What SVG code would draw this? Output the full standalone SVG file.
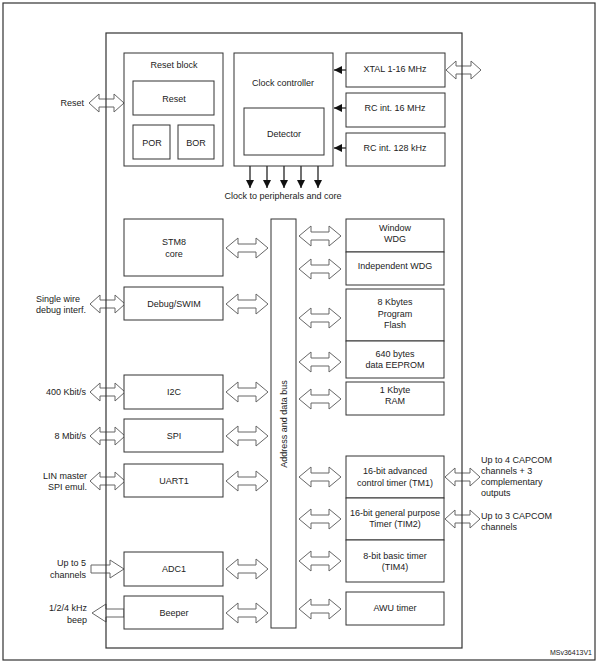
<svg xmlns="http://www.w3.org/2000/svg" xmlns:xlink="http://www.w3.org/1999/xlink" width="600" height="664" viewBox="0 0 600 664">
<style>
.frame{fill:none;stroke:#333;stroke-width:1.2}
.box{fill:#fff;stroke:#333;stroke-width:1}
.t{font-family:"Liberation Sans",Arial,sans-serif;font-size:9px;fill:#222;text-anchor:middle}
.tl{text-anchor:start}
.tr{text-anchor:end}
.arr{fill:#fff;stroke:#666;stroke-width:1}
.ln{stroke:#111;stroke-width:1.2;fill:none}
</style>
<defs>
<path id="da42" class="arr" d="M0,0 L12,-10 L12,-4 L30,-4 L30,-10 L42,0 L30,10 L30,4 L12,4 L12,10 Z"/>
<path id="da35" class="arr" d="M0,0 L10,-9 L10,-4 L25,-4 L25,-9 L35,0 L25,9 L25,4 L10,4 L10,9 Z"/>
<marker id="ah" viewBox="0 0 10 10" refX="10" refY="5" markerWidth="8" markerHeight="8" markerUnits="userSpaceOnUse" orient="auto">
<path d="M0,0 L10,5 L0,10 Z" fill="#111"/>
</marker>
</defs>
<rect x="3" y="3" width="592" height="657" fill="#fff" stroke="#333" stroke-width="1.2"/>

<g id="connectors">
<!-- clock source arrows -->
<line class="ln" x1="346" y1="70" x2="334" y2="70" marker-end="url(#ah)"/>
<line class="ln" x1="346" y1="108" x2="334" y2="108" marker-end="url(#ah)"/>
<line class="ln" x1="346" y1="148" x2="334" y2="148" marker-end="url(#ah)"/>
<!-- clock outputs -->
<line class="ln" x1="250" y1="166" x2="250" y2="188" marker-end="url(#ah)"/>
<line class="ln" x1="267" y1="166" x2="267" y2="188" marker-end="url(#ah)"/>
<line class="ln" x1="284" y1="166" x2="284" y2="188" marker-end="url(#ah)"/>
<line class="ln" x1="301" y1="166" x2="301" y2="188" marker-end="url(#ah)"/>
<line class="ln" x1="318" y1="166" x2="318" y2="188" marker-end="url(#ah)"/>
<!-- external arrows -->
<use xlink:href="#da35" href="#da35" x="89" y="103"/>
<use xlink:href="#da35" href="#da35" x="446" y="70"/>
<use xlink:href="#da35" href="#da35" x="90" y="304"/>
<use xlink:href="#da35" href="#da35" x="90" y="392"/>
<use xlink:href="#da35" href="#da35" x="90" y="436"/>
<use xlink:href="#da35" href="#da35" x="90" y="481"/>
<path class="arr" d="M91,565 L110,565 L110,560 L124,569 L110,578 L110,573 L91,573 Z"/>
<path class="arr" d="M124,609 L106,609 L106,604 L92,613 L106,622 L106,617 L124,617 Z"/>
<use xlink:href="#da35" href="#da35" x="445" y="477"/>
<use xlink:href="#da35" href="#da35" x="445" y="519"/>
<!-- internal bus arrows left -->
<use xlink:href="#da42" href="#da42" x="226" y="248"/>
<use xlink:href="#da42" href="#da42" x="226" y="304"/>
<use xlink:href="#da42" href="#da42" x="226" y="392"/>
<use xlink:href="#da42" href="#da42" x="226" y="436"/>
<use xlink:href="#da42" href="#da42" x="226" y="481"/>
<use xlink:href="#da42" href="#da42" x="226" y="569"/>
<use xlink:href="#da42" href="#da42" x="226" y="613"/>
<!-- internal bus arrows right -->
<use xlink:href="#da42" href="#da42" x="299" y="236"/>
<use xlink:href="#da42" href="#da42" x="299" y="269"/>
<use xlink:href="#da42" href="#da42" x="299" y="318"/>
<use xlink:href="#da42" href="#da42" x="299" y="362"/>
<use xlink:href="#da42" href="#da42" x="299" y="399"/>
<use xlink:href="#da42" href="#da42" x="299" y="477"/>
<use xlink:href="#da42" href="#da42" x="299" y="519"/>
<use xlink:href="#da42" href="#da42" x="299" y="561"/>
<use xlink:href="#da42" href="#da42" x="299" y="609"/>
</g>

<g id="chip"><rect class="frame" x="106" y="33" width="356" height="615"/></g>

<g id="reset-block">
<rect class="box" x="124" y="53" width="99" height="113"/>
<text class="t" x="174" y="68">Reset block</text>
</g>
<g id="reset"><rect class="box" x="133" y="81" width="81" height="34"/><text class="t" x="174" y="102">Reset</text></g>
<g id="por"><rect class="box" x="133" y="125" width="37" height="34"/><text class="t" x="152" y="146">POR</text></g>
<g id="bor"><rect class="box" x="178" y="125" width="36" height="34"/><text class="t" x="196" y="146">BOR</text></g>

<g id="clock-controller">
<rect class="box" x="234" y="53" width="99" height="113"/>
<text class="t" x="283" y="86">Clock controller</text>
</g>
<g id="detector"><rect class="box" x="244" y="108" width="80" height="47"/><text class="t" x="284" y="137">Detector</text></g>

<g id="xtal"><rect class="box" x="346" y="53" width="99" height="34"/><text class="t" x="395" y="72">XTAL 1-16 MHz</text></g>
<g id="rc16"><rect class="box" x="346" y="93" width="99" height="34"/><text class="t" x="395" y="111">RC int. 16 MHz</text></g>
<g id="rc128"><rect class="box" x="346" y="133" width="99" height="33"/><text class="t" x="395" y="151">RC int. 128 kHz</text></g>

<g id="clock-label"><text class="t" x="283" y="199">Clock to peripherals and core</text></g>

<g id="bus">
<rect class="box" x="271" y="219" width="25" height="409"/>
<text class="t" transform="translate(286.5,424) rotate(-90)">Address and data bus</text>
</g>

<g id="stm8"><rect class="box" x="124" y="219" width="99" height="57"/><text class="t" x="174" y="245">STM8</text><text class="t" x="174" y="257">core</text></g>
<g id="debug"><rect class="box" x="124" y="287" width="99" height="33"/><text class="t" x="174" y="307">Debug/SWIM</text></g>
<g id="i2c"><rect class="box" x="124" y="375" width="99" height="34"/><text class="t" x="174" y="395">I2C</text></g>
<g id="spi"><rect class="box" x="124" y="419" width="99" height="33"/><text class="t" x="174" y="439">SPI</text></g>
<g id="uart1"><rect class="box" x="124" y="464" width="99" height="33"/><text class="t" x="174" y="484">UART1</text></g>
<g id="adc1"><rect class="box" x="124" y="552" width="99" height="34"/><text class="t" x="174" y="572">ADC1</text></g>
<g id="beeper"><rect class="box" x="124" y="596" width="99" height="33"/><text class="t" x="174" y="616">Beeper</text></g>

<g id="wwdg"><rect class="box" x="346" y="219" width="98" height="33"/><text class="t" x="395" y="231">Window</text><text class="t" x="395" y="242">WDG</text></g>
<g id="iwdg"><rect class="box" x="346" y="252" width="98" height="33"/><text class="t" x="395" y="269">Independent WDG</text></g>
<g id="flash"><rect class="box" x="346" y="289" width="98" height="52"/><text class="t" x="395" y="305">8 Kbytes</text><text class="t" x="395" y="317">Program</text><text class="t" x="395" y="328">Flash</text></g>
<g id="eeprom"><rect class="box" x="346" y="341" width="98" height="37"/><text class="t" x="395" y="357">640 bytes</text><text class="t" x="395" y="368">data EEPROM</text></g>
<g id="ram"><rect class="box" x="346" y="382" width="98" height="33"/><text class="t" x="395" y="393">1 Kbyte</text><text class="t" x="395" y="404">RAM</text></g>
<g id="tim1"><rect class="box" x="346" y="456" width="98" height="42"/><text class="t" x="395" y="474">16-bit advanced</text><text class="t" x="395" y="486">control timer (TM1)</text></g>
<g id="tim2"><rect class="box" x="346" y="498" width="98" height="42"/><text class="t" x="395" y="516">16-bit general purpose</text><text class="t" x="395" y="527">Timer (TIM2)</text></g>
<g id="tim4"><rect class="box" x="346" y="540" width="98" height="42"/><text class="t" x="395" y="559">8-bit basic timer</text><text class="t" x="395" y="570">(TIM4)</text></g>
<g id="awu"><rect class="box" x="346" y="592" width="98" height="33"/><text class="t" x="395" y="611">AWU timer</text></g>

<g id="labels">
<text class="t tr" x="84" y="106">Reset</text>
<text class="t tl" x="36" y="302">Single wire</text>
<text class="t tl" x="36" y="313">debug interf.</text>
<text class="t tr" x="86" y="395">400 Kbit/s</text>
<text class="t tr" x="86" y="439">8 Mbit/s</text>
<text class="t tr" x="87" y="479">LIN master</text>
<text class="t tr" x="87" y="490">SPI emul.</text>
<text class="t tr" x="86" y="566">Up to 5</text>
<text class="t tr" x="86" y="578">channels</text>
<text class="t tr" x="87" y="611">1/2/4 kHz</text>
<text class="t tr" x="87" y="623">beep</text>
<text class="t tl" x="481" y="463">Up to 4 CAPCOM</text>
<text class="t tl" x="481" y="474">channels + 3</text>
<text class="t tl" x="481" y="485">complementary</text>
<text class="t tl" x="481" y="496">outputs</text>
<text class="t tl" x="481" y="519">Up to 3 CAPCOM</text>
<text class="t tl" x="481" y="530">channels</text>
<text class="t tr" x="592" y="655" style="font-size:7px">MSv36413V1</text>
</g>
</svg>
